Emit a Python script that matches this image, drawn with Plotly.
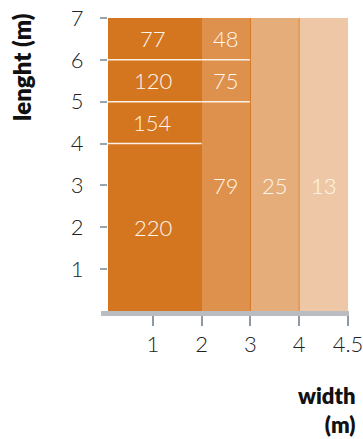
import plotly.graph_objects as go

# ---- data ----
col_edges = [0, 2, 3, 4, 5]                 # column boundaries (width axis)
x_tickvals = [1, 2, 3, 4, 5]
x_ticktext = ["1", "2", "3", "4", "4.5"]
y_tickvals = [1, 2, 3, 4, 5, 6, 7]

seg_col = [0, 0, 0, 0, 1, 1, 1, 2, 3]
seg_y0 = [0, 4, 5, 6, 0, 5, 6, 0, 0]
seg_y1 = [4, 5, 6, 7, 5, 6, 7, 7, 7]
seg_value = [220, 154, 120, 77, 79, 75, 48, 25, 13]
label_y = [2, 4.5, 5.5, 6.5, 3, 5.5, 6.5, 3, 3]

# ---- style ----
base_rgb = (212, 118, 32)
col_alpha = [1.0, 0.8, 0.6, 0.4]
FONT = "Lato"

def rgba(a):
    r, g, b = base_rgb
    return f"rgba({r},{g},{b},{a})"

fig = go.Figure()
ncol = len(col_edges) - 1
for c in range(ncol):
    idx = [i for i in range(len(seg_col)) if seg_col[i] == c]
    x0, x1 = col_edges[c], col_edges[c + 1]
    fig.add_trace(go.Bar(
        x=[(x0 + x1) / 2] * len(idx),
        y=[seg_y1[i] - seg_y0[i] for i in idx],
        base=[seg_y0[i] for i in idx],
        width=[x1 - x0] * len(idx),
        marker=dict(color=rgba(col_alpha[c]), line=dict(width=0)),
        hoverinfo="skip",
        showlegend=False,
    ))

shapes = []
# white separators between stacked segments
for i in range(len(seg_col)):
    if seg_y0[i] > 0:
        c = seg_col[i]
        shapes.append(dict(type="line", xref="x", yref="y",
                           x0=col_edges[c], x1=col_edges[c + 1],
                           y0=seg_y0[i], y1=seg_y0[i],
                           line=dict(color="rgba(255,248,240,0.95)", width=1.5),
                           layer="above"))
# thin borders between lighter columns
for c in range(1, ncol - 1):
    e = col_edges[c + 1]
    shapes.append(dict(type="line", xref="x", yref="y",
                       x0=e, x1=e, y0=0, y1=max(seg_y1),
                       line=dict(color=rgba(min(1, col_alpha[c] + 0.15)), width=1),
                       layer="above"))
# x-axis baseline (extends slightly left of the plot like the reference)
shapes.append(dict(type="line", xref="paper", yref="paper",
                   x0=-0.029, x1=1.004, y0=-0.0085, y1=-0.0085,
                   line=dict(color="#b9bdc1", width=5), layer="above"))

annotations = []
for i in range(len(seg_value)):
    c = seg_col[i]
    annotations.append(dict(
        x=(col_edges[c] + col_edges[c + 1]) / 2, y=label_y[i],
        xref="x", yref="y", text=str(seg_value[i]), showarrow=False,
        font=dict(family=FONT, size=22, color="#fff6ec", weight=300),
    ))
annotations.append(dict(text="lenght (m)", xref="paper", yref="paper",
                        x=-0.358, y=0.833, textangle=-90, showarrow=False,
                        xanchor="center", yanchor="middle",
                        font=dict(family=FONT, size=24, color="#111", weight=800)))
annotations.append(dict(text="width<br>(m)", xref="paper", yref="paper",
                        x=1.0415, y=-0.338, showarrow=False, align="right",
                        xanchor="right", yanchor="middle",
                        font=dict(family=FONT, size=22, color="#111", weight=800)))

fig.update_layout(
    width=363, height=439,
    margin=dict(l=108, r=15, t=18, b=128),
    paper_bgcolor="white", plot_bgcolor="white",
    barmode="overlay", bargap=0,
    shapes=shapes, annotations=annotations,
    xaxis=dict(range=[0.08, 5.0], tickvals=x_tickvals, ticktext=x_ticktext,
               ticks="outside", ticklen=14, tickwidth=1.5, tickcolor="#8f99a3",
               showgrid=False, zeroline=False, showline=False, automargin=False,
               ticklabeloverflow="allow",
               tickfont=dict(family=FONT, size=22, color="#222", weight=300),
               fixedrange=True),
    yaxis=dict(range=[0, 7], tickvals=y_tickvals,
               ticks="outside", ticklen=7, tickwidth=2, tickcolor="#9aa4ad",
               showgrid=False, zeroline=False, showline=False, automargin=False,
               ticklabelstandoff=12,
               tickfont=dict(family=FONT, size=22, color="#222", weight=300),
               fixedrange=True),
)

fig.write_html("out.html", config={"displayModeBar": False},
               post_script="document.body.style.margin='0';document.body.style.overflow='hidden';")
